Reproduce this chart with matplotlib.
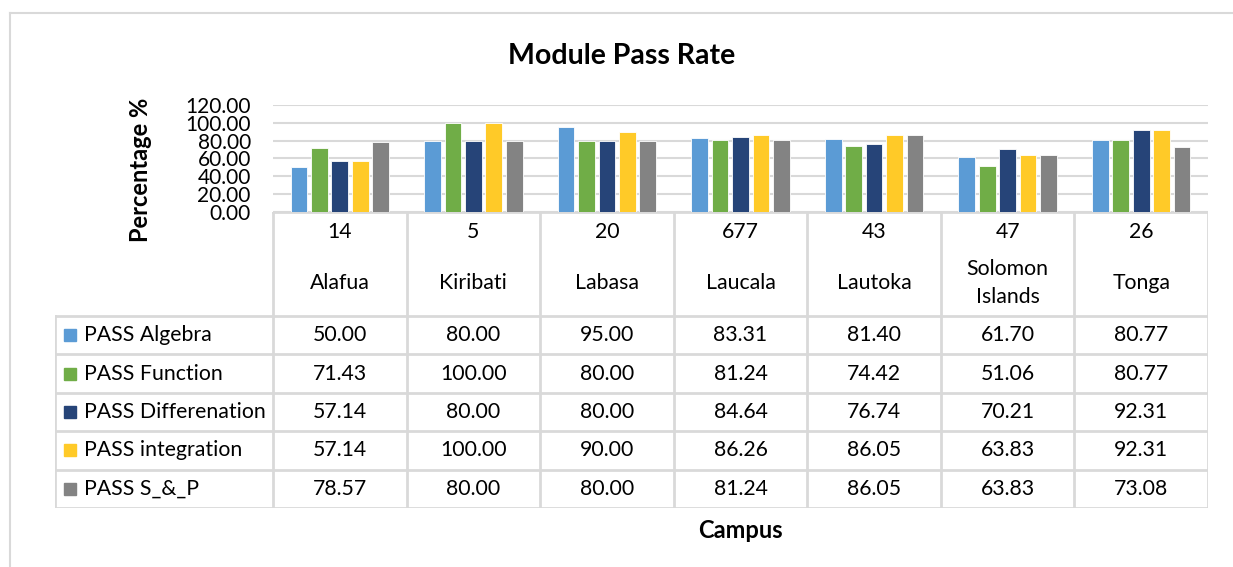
import numpy as np
import matplotlib.pyplot as plt
from matplotlib.lines import Line2D
from matplotlib.patches import Rectangle

plt.rcParams['font.family'] = ['Lato', 'DejaVu Sans']

# data
campuses = ['Alafua', 'Kiribati', 'Labasa', 'Laucala', 'Lautoka', 'Solomon\nIslands', 'Tonga']
counts = [14, 5, 20, 677, 43, 47, 26]
series_names = ['PASS Algebra', 'PASS Function', 'PASS Differenation', 'PASS integration', 'PASS S_&_P']
pass_algebra = [50.00, 80.00, 95.00, 83.31, 81.40, 61.70, 80.77]
pass_function = [71.43, 100.00, 80.00, 81.24, 74.42, 51.06, 80.77]
pass_diff = [57.14, 80.00, 80.00, 84.64, 76.74, 70.21, 92.31]
pass_integ = [57.14, 100.00, 90.00, 86.26, 86.05, 63.83, 92.31]
pass_sp = [78.57, 80.00, 80.00, 81.24, 86.05, 63.83, 73.08]
colors = ['#5B9BD5', '#70AD47', '#264478', '#FFCA28', '#838383']

W, H = 1233, 567
fig = plt.figure(figsize=(W / 100, H / 100), dpi=100)

def fx(x):
    return x / W

def fy(y):
    return 1 - y / H

grid_c = '#d9d9d9'
fs = 15.3

# chart frame (left + top visible)
fig.add_artist(Line2D([fx(10), fx(10)], [fy(13), fy(567)], color=grid_c, lw=1.5))
fig.add_artist(Line2D([fx(10), fx(1233)], [fy(13), fy(13)], color=grid_c, lw=1.5))

# bar plot area
L, R, T, B = 273, 1208, 105, 212
ax = fig.add_axes([fx(L), fy(B), fx(R) - fx(L), fy(T) - fy(B)])
x = np.arange(len(campuses))
all_series = [pass_algebra, pass_function, pass_diff, pass_integ, pass_sp]
step = 0.153
for i, vals in enumerate(all_series):
    ax.bar(x + (i - 2) * step, vals, width=0.125, color=colors[i],
           edgecolor='white', linewidth=0.6, zorder=3)
ax.set_xlim(-0.5, 6.5)
ax.set_ylim(0, 120)
ax.set_yticks(np.arange(0, 121, 20))
ax.set_yticklabels([f'{v:.2f}' for v in np.arange(0, 121, 20)], fontsize=15)
ax.tick_params(axis='y', length=0, pad=16)
ax.set_xticks([])
ax.yaxis.grid(True, color=grid_c, lw=1.5, zorder=0)
for s in ax.spines.values():
    s.set_visible(False)

fig.text(fx(622), fy(56), 'Module Pass Rate', ha='center', va='center',
         fontsize=20.5, fontweight='bold')
fig.text(fx(141), fy(170), 'Percentage %', ha='center', va='center',
         rotation=90, fontsize=17, fontweight='bold')
fig.text(fx(740), fy(530), 'Campus', ha='center', va='center',
         fontsize=17, fontweight='bold')

# data table below the bars
TL, TB = 55, 508
tab = fig.add_axes([fx(TL), fy(TB), fx(R) - fx(TL), fy(B) - fy(TB)])
colw = (R - L) / 7
left_units = (L - TL) / colw
tab.set_xlim(-0.5 - left_units, 6.5)
hdr = 104
rowh = (TB - B - hdr) / 5
tab.set_ylim(TB - B, 0)
tab.axis('off')

lkw = dict(color=grid_c, lw=2, solid_capstyle='projecting')
# vertical lines
for k in range(8):
    tab.plot([k - 0.5, k - 0.5], [0, TB - B], **lkw)
tab.plot([-0.5 - left_units] * 2, [hdr, TB - B], **lkw)
# horizontal lines
tab.plot([-0.5, 6.5], [0, 0], **lkw)
for r in range(6):
    yy = hdr + r * rowh
    tab.plot([-0.5 - left_units, 6.5], [yy, yy], **lkw)

for k in range(7):
    tab.text(k, 20, str(counts[k]), ha='center', va='center', fontsize=fs)
    tab.text(k, 71, campuses[k], ha='center', va='center', fontsize=fs,
             linespacing=1.45)

for r, (name, vals) in enumerate(zip(series_names, all_series)):
    yc = hdr + (r + 0.5) * rowh
    tab.add_patch(Rectangle((-0.5 - left_units + 9 / colw, yc - 6), 12 / colw, 12,
                            color=colors[r], clip_on=False))
    tab.text(-0.5 - left_units + 29 / colw, yc, name, ha='left', va='center', fontsize=fs)
    for k in range(7):
        tab.text(k, yc, f'{vals[k]:.2f}', ha='center', va='center', fontsize=fs)

fig.savefig('out.png', dpi=100)
